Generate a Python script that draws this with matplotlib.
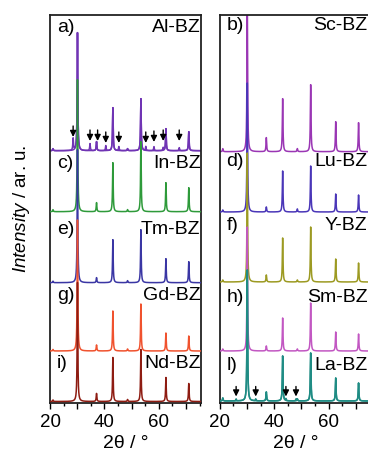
import numpy as np
import matplotlib.pyplot as plt
from matplotlib.ticker import MultipleLocator

plt.rcParams['font.family'] = ['Liberation Sans', 'DejaVu Sans']
plt.rcParams['mathtext.fontset'] = 'custom'
plt.rcParams['mathtext.rm'] = 'Liberation Sans'
plt.rcParams['mathtext.it'] = 'Liberation Sans:italic'

# BaZrO3 reflections (2theta, deg)
bz_pos = [21.1, 30.1, 37.1, 43.1, 48.5, 53.4, 62.6, 71.0]

# left panel
left_names = ["Al-BZ", "In-BZ", "Tm-BZ", "Gd-BZ", "Nd-BZ"]
left_tags = ["a)", "c)", "e)", "g)", "i)"]
left_colors = ["#7034b4", "#2e9a3a", "#3a36a4", "#f0522e", "#8e1c12"]
left_heights = [
    [2, 118, 9, 43, 2, 52, 22, 19],
    [2, 132, 9, 49, 2, 70, 29, 24],
    [1.5, 133, 5, 43, 2, 53, 24, 21],
    [1.5, 131, 6, 40, 2, 47, 18, 15],
    [1.5, 119, 8, 44, 2, 52, 24, 18],
]
left_offsets = [252.3, 191.3, 120.3, 52, 1.5]
left_text_y = [375.5, 239, 174, 108, 40]

# right panel
right_names = ["Sc-BZ", "Lu-BZ", "Y-BZ", "Sm-BZ", "La-BZ"]
right_tags = ["b)", "d)", "f)", "h)", "l)"]
right_colors = ["#9a36b4", "#4a36b8", "#9c9a22", "#c257c2", "#1f8c84"]
right_heights = [
    [3, 160, 14, 53, 3, 67, 30, 29],
    [2, 129, 5, 41, 3, 46, 18, 17],
    [2, 129, 7, 44, 2, 55, 23, 19],
    [2, 124, 5, 33, 2, 48, 19, 17],
    [3, 131, 9, 45, 2, 48, 23, 18],
]
right_offsets = [251.3, 191, 121, 52, 2]
right_text_y = [378, 241, 177, 105, 38]

# impurity reflections marked with arrows
al_imp_pos = [28.5, 34.7, 40.5, 45.3, 55.2, 58.2, 61.6, 67.5]
al_imp_h = [12, 7, 5, 4, 4, 4, 3, 3]
al_arrows = [28.5, 34.7, 37.5, 40.5, 45.3, 55.2, 58.2, 61.6, 67.5]
al_arrow_tip = [266, 262, 262, 260, 260, 260, 261, 262, 262]

la_imp_pos = [26.0, 33.2, 44.3, 48.0]
la_imp_h = [2, 2, 2, 2]
la_arrow_tip = [6.5, 6.5, 6.5, 6.5]

tth = np.arange(19, 76, 0.02)


def pattern(pos, heights, w=0.28):
    y = np.zeros_like(tth)
    for p, h in zip(pos, heights):
        y += h / (1 + ((tth - p) / (w / 2)) ** 2)
    return y


fig = plt.figure(figsize=(3.68, 4.53), dpi=100)
axl = fig.add_axes([50 / 368, 50 / 453, 151 / 368, 388 / 453])
axr = fig.add_axes([219.8 / 368, 50 / 453, 151 / 368, 388 / 453])


def draw(ax, names, tags, colors, heights, offsets, text_y, xr):
    for i in range(len(names)):
        y = pattern(bz_pos, heights[i]) + offsets[i]
        ax.plot(tth, y, color=colors[i], lw=1.1, zorder=2 + i)
        ax.text(22.5, text_y[i], tags[i], fontsize=14, ha='left', va='center', zorder=20)
        ax.text(xr, text_y[i], names[i], fontsize=14, ha='right', va='center', zorder=20)
    ax.set_xlim(20, 75.5)
    ax.set_ylim(0, 388)
    ax.set_yticks([])
    ax.set_xticks([20, 30, 40, 50, 60, 70])
    ax.set_xticklabels(['20', '', '40', '', '60', ''])
    ax.xaxis.set_minor_locator(MultipleLocator(5))
    ax.tick_params(axis='x', which='major', length=4, width=1, labelsize=13.5, pad=4)
    ax.tick_params(axis='x', which='minor', length=2.5, width=1)
    for s in ax.spines.values():
        s.set_linewidth(1.3)
        s.set_color('#222222')
    ax.set_xlabel('2θ / °', fontsize=14, labelpad=3)


draw(axl, left_names, left_tags, left_colors, left_heights, left_offsets, left_text_y, 75.3)
draw(axr, right_names, right_tags, right_colors, right_heights, right_offsets, right_text_y, 74.3)

# impurity peaks overlaid on Al-BZ and La-BZ
axl.plot(tth, pattern(bz_pos, left_heights[0]) + pattern(al_imp_pos, al_imp_h) + left_offsets[0],
         color=left_colors[0], lw=1.1, zorder=2)
axr.plot(tth, pattern(bz_pos, right_heights[4]) + pattern(la_imp_pos, la_imp_h) + right_offsets[4],
         color=right_colors[4], lw=1.1, zorder=6)

arrow = dict(arrowstyle='-|>', color='k', lw=1.0, mutation_scale=9, shrinkA=0, shrinkB=0)
for x, t in zip(al_arrows, al_arrow_tip):
    axl.annotate('', xy=(x, t), xytext=(x, t + 11), arrowprops=arrow, zorder=15)
for x, t in zip(la_imp_pos, la_arrow_tip):
    axr.annotate('', xy=(x, t), xytext=(x, t + 10), arrowprops=arrow, zorder=15)

axl.set_ylabel(r'$\mathit{Intensity}$ / ar. u.', fontsize=13.5, labelpad=13)

fig.savefig('out.png', dpi=100)
